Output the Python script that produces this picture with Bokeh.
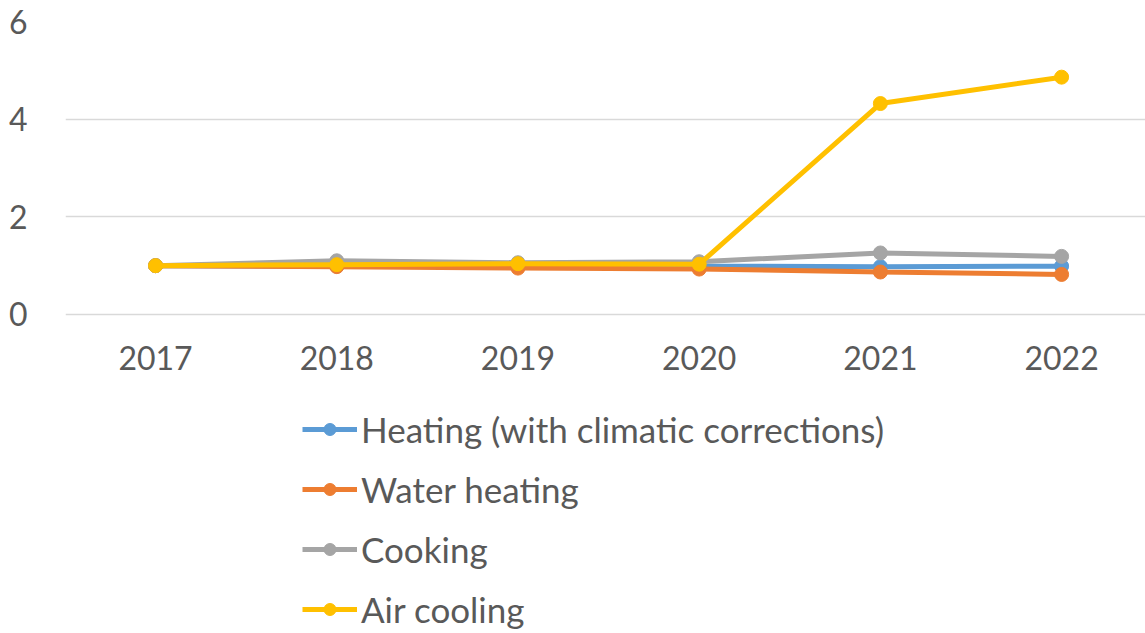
from bokeh.plotting import figure
from bokeh.models import Range1d, FixedTicker, Legend, LegendItem
from bokeh.embed import file_html
from bokeh.resources import INLINE

years = [2017, 2018, 2019, 2020, 2021, 2022]
heating = [1.0, 0.99, 1.0, 0.99, 0.98, 0.99]
water_heating = [1.0, 0.98, 0.95, 0.93, 0.87, 0.82]
cooking = [1.0, 1.10, 1.06, 1.08, 1.26, 1.19]
air_cooling = [1.0, 1.02, 1.04, 1.03, 4.32, 4.86]

names = ["Heating (with climatic corrections)", "Water heating", "Cooking", "Air cooling"]
series = [heating, water_heating, cooking, air_cooling]
colors = ["#5B9BD5", "#ED7D31", "#A5A5A5", "#FFC000"]

FONT = "Lato"
TXT = "#595959"

p = figure(width=1145, height=633, output_backend="svg", toolbar_location=None,
           x_range=Range1d(2016.503, 2022.463), y_range=Range1d(-6.533, 6),
           min_border_left=65, min_border_right=0, min_border_top=21, min_border_bottom=0)
p.outline_line_color = None
p.background_fill_color = "white"
p.border_fill_color = "white"

p.xaxis.ticker = FixedTicker(ticks=years)
p.xaxis.fixed_location = 0
p.yaxis.ticker = FixedTicker(ticks=[0, 2, 4, 6])
for ax in (p.xaxis[0], p.yaxis[0]):
    ax.axis_line_color = None
    ax.major_tick_line_color = None
    ax.minor_tick_line_color = None
    ax.major_label_text_font = FONT
    ax.major_label_text_font_size = "32px"
    ax.major_label_text_color = TXT
p.xaxis.major_label_standoff = 26
p.yaxis.major_label_standoff = 32
p.xgrid.grid_line_color = None
p.ygrid.grid_line_color = "#D9D9D9"
p.ygrid.grid_line_width = 1.5

items = []
for name, vals, c in zip(names, series, colors):
    l = p.line(years, vals, line_color=c, line_width=5)
    s = p.scatter(years, vals, size=14, fill_color=c, line_color=c)
    items.append(LegendItem(label=name, renderers=[l, s]))

legend = Legend(items=items, orientation="vertical", location=(237, 3),
                label_text_font=FONT, label_text_font_size="35px", label_text_color=TXT,
                glyph_width=55, glyph_height=30, label_height=30, spacing=18,
                label_standoff=4, border_line_color=None, background_fill_alpha=0,
                padding=0, margin=0)
p.add_layout(legend, "center")

open("out.html", "w").write(file_html(p, INLINE))
